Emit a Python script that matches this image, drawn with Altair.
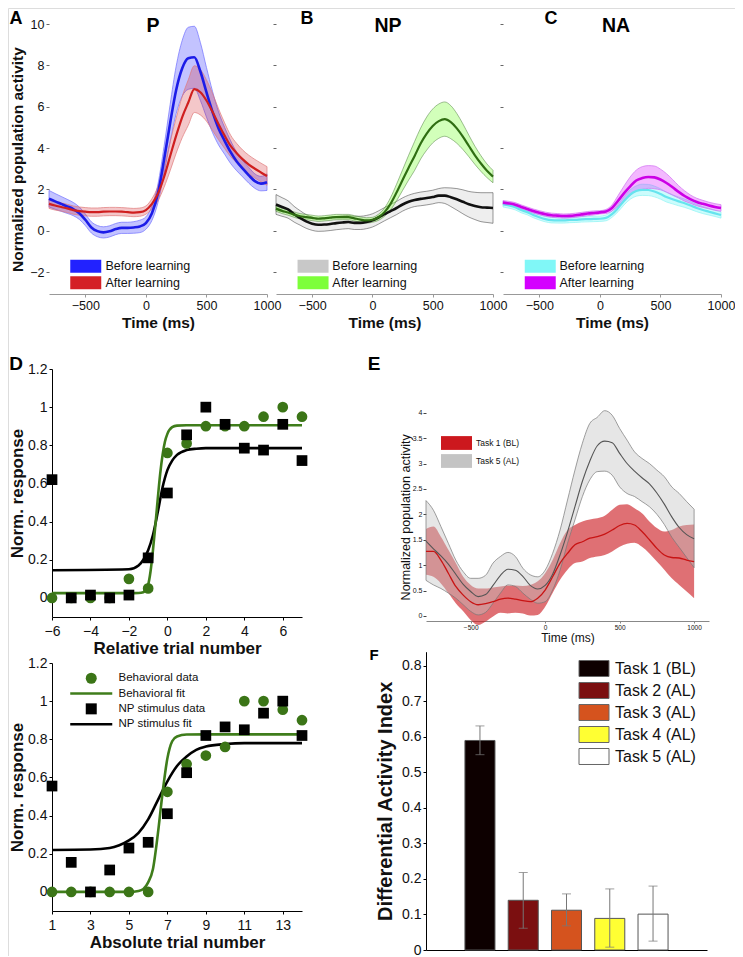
import altair as alt
import pandas as pd

W, H = 727, 948
FONT = "Liberation Sans"

# ------------------------------------------------------------------ data
T = [-800, -750, -700, -650, -600, -550, -500, -450, -400, -350, -300, -250, -200, -150, -100, -50,
     0, 50, 100, 150, 200, 250, 300, 350, 400, 450, 500, 550, 600, 650, 700, 750, 800, 850, 900, 950, 1000]

LEARN = ["Before learning", "After learning"]

# Panel A (P)
P_before_mean = [1.55, 1.42, 1.3, 1.18, 1.05, 0.85, 0.53, 0.16, -0.02, -0.08, -0.03, 0.08, 0.14, 0.14, 0.16, 0.21,
                 0.37, 0.85, 1.82, 3.43, 5.2, 6.81, 7.86, 8.34, 8.39, 7.7, 6.7, 5.75, 4.95, 4.35, 3.8, 3.35, 3.0, 2.68, 2.4, 2.28, 2.35]
P_before_sem = [0.4, 0.38, 0.36, 0.34, 0.32, 0.3, 0.28, 0.27, 0.27, 0.27, 0.27, 0.27, 0.27, 0.27, 0.28, 0.3,
                0.3, 0.35, 0.45, 0.65, 0.9, 1.15, 1.35, 1.5, 1.5, 1.4, 1.2, 1.0, 0.8, 0.65, 0.55, 0.45, 0.4, 0.38, 0.35, 0.35, 0.4]
P_after_mean = [1.3, 1.22, 1.15, 1.08, 1.0, 0.95, 0.92, 0.9, 0.9, 0.92, 0.93, 0.93, 0.92, 0.9, 0.88, 0.9,
                1.0, 1.3, 1.8, 2.6, 3.6, 4.6, 5.5, 6.2, 6.85, 6.7, 6.3, 5.75, 5.15, 4.6, 4.1, 3.75, 3.45, 3.2, 3.0, 2.82, 2.65]
P_after_sem = [0.22, 0.22, 0.2, 0.2, 0.2, 0.2, 0.2, 0.2, 0.2, 0.2, 0.2, 0.2, 0.2, 0.2, 0.2, 0.2,
               0.2, 0.25, 0.35, 0.5, 0.7, 0.85, 1.0, 1.1, 1.13, 1.1, 1.0, 0.9, 0.75, 0.62, 0.52, 0.47, 0.45, 0.45, 0.45, 0.45, 0.45]

# Panel B (NP)
NP_before_mean = [1.27, 1.15, 1.03, 0.8, 0.62, 0.45, 0.34, 0.29, 0.3, 0.33, 0.37, 0.4, 0.42, 0.38, 0.38, 0.42,
                  0.5, 0.64, 0.8, 0.95, 1.1, 1.27, 1.4, 1.49, 1.54, 1.58, 1.63, 1.7, 1.7, 1.62, 1.52, 1.4, 1.28, 1.2, 1.14, 1.12, 1.1]
NP_before_sem = [0.48, 0.45, 0.42, 0.38, 0.35, 0.33, 0.32, 0.32, 0.32, 0.32, 0.32, 0.32, 0.32, 0.32, 0.32, 0.32,
                 0.32, 0.32, 0.32, 0.32, 0.32, 0.32, 0.32, 0.32, 0.33, 0.33, 0.33, 0.34, 0.38, 0.45, 0.52, 0.58, 0.62, 0.66, 0.7, 0.72, 0.74]
NP_after_mean = [1.07, 0.96, 0.88, 0.78, 0.7, 0.66, 0.62, 0.58, 0.6, 0.63, 0.66, 0.66, 0.66, 0.6, 0.54, 0.5,
                 0.53, 0.65, 0.9, 1.3, 1.85, 2.45, 3.05, 3.62, 4.22, 4.7, 5.07, 5.3, 5.4, 5.25, 4.95, 4.55, 4.1, 3.65, 3.25, 2.9, 2.62]
NP_after_sem = [0.13, 0.13, 0.13, 0.13, 0.13, 0.13, 0.13, 0.13, 0.13, 0.13, 0.13, 0.13, 0.13, 0.13, 0.13, 0.13,
                0.12, 0.15, 0.2, 0.3, 0.4, 0.5, 0.6, 0.7, 0.75, 0.8, 0.82, 0.83, 0.83, 0.8, 0.72, 0.62, 0.52, 0.44, 0.38, 0.33, 0.3]

# Panel C (NA)
NA_before_mean = [1.28, 1.22, 1.14, 1.0, 0.9, 0.76, 0.65, 0.56, 0.51, 0.5, 0.5, 0.52, 0.53, 0.55, 0.56, 0.57,
                  0.58, 0.62, 0.8, 1.1, 1.45, 1.75, 1.92, 1.98, 1.97, 1.9, 1.78, 1.63, 1.52, 1.42, 1.33, 1.22, 1.1, 1.0, 0.92, 0.84, 0.76]
NA_before_sem = [0.13, 0.13, 0.13, 0.13, 0.13, 0.13, 0.13, 0.13, 0.13, 0.13, 0.13, 0.13, 0.13, 0.13, 0.13, 0.13,
                 0.13, 0.14, 0.15, 0.18, 0.2, 0.23, 0.25, 0.27, 0.27, 0.26, 0.25, 0.24, 0.22, 0.21, 0.2, 0.19, 0.18, 0.17, 0.16, 0.15, 0.15]
NA_after_mean = [1.36, 1.32, 1.26, 1.15, 1.05, 0.95, 0.87, 0.8, 0.75, 0.73, 0.71, 0.72, 0.75, 0.79, 0.83, 0.86,
                 0.89, 0.93, 1.1, 1.45, 1.82, 2.15, 2.43, 2.55, 2.6, 2.58, 2.48, 2.31, 2.1, 1.88, 1.68, 1.52, 1.39, 1.3, 1.22, 1.15, 1.1]
NA_after_sem = [0.1, 0.1, 0.1, 0.1, 0.1, 0.1, 0.1, 0.1, 0.1, 0.1, 0.1, 0.1, 0.1, 0.1, 0.1, 0.1,
                0.08, 0.1, 0.15, 0.25, 0.35, 0.45, 0.5, 0.55, 0.55, 0.55, 0.5, 0.45, 0.38, 0.3, 0.25, 0.2, 0.18, 0.17, 0.16, 0.16, 0.16]

# Panel D
REL_X = [-6, -5, -4, -3, -2, -1, 0, 1, 2, 3, 4, 5, 6, 7]
REL_BEH = [0, 0, 0, 0, 0.1, 0.05, 0.76, 0.81, 0.9, 0.9, 0.9, 0.95, 1.0, 0.95]
REL_NP = [0.62, 0, 0.015, 0.0, 0.015, 0.21, 0.55, 0.855, 1.0, 0.91, 0.785, 0.775, 0.91, 0.72]
REL_BEH_FIT_X = [-6, -2, -1.5, -1.25, -1, -0.875, -0.75, -0.625, -0.5, -0.375, -0.25, -0.125, 0, 0.25, 0.5, 1, 7]
REL_BEH_FIT = [0.025, 0.025, 0.026, 0.03, 0.07, 0.14, 0.25, 0.38, 0.52, 0.65, 0.75, 0.82, 0.86, 0.895, 0.903, 0.905, 0.905]
REL_NP_FIT_X = [-6, -2, -1.5, -1.25, -1, -0.75, -0.5, -0.25, 0, 0.25, 0.5, 1, 1.5, 2, 7]
REL_NP_FIT = [0.145, 0.15, 0.17, 0.2, 0.25, 0.33, 0.45, 0.58, 0.67, 0.72, 0.75, 0.775, 0.782, 0.785, 0.785]

ABS_X = [1, 2, 3, 4, 5, 6, 7, 8, 9, 10, 11, 12, 13, 14]
ABS_BEH = [0, 0, 0, 0, 0, 0, 0.525, 0.67, 0.715, 0.76, 1.0, 1.0, 0.955, 0.9]
ABS_NP = [0.555, 0.155, 0.0, 0.115, 0.23, 0.26, 0.41, 0.625, 0.82, 0.865, 0.85, 0.937, 1.0, 0.82]
ABS_BEH_FIT_X = [1, 5, 5.5, 5.75, 6, 6.25, 6.5, 6.75, 7, 7.25, 7.5, 8, 9, 14]
ABS_BEH_FIT = [0, 0, 0.005, 0.015, 0.05, 0.12, 0.3, 0.52, 0.7, 0.79, 0.815, 0.825, 0.826, 0.826]
ABS_NP_FIT_X = [1, 3, 4, 4.5, 5, 5.5, 6, 6.5, 7, 7.5, 8, 8.5, 9, 10, 11, 14]
ABS_NP_FIT = [0.22, 0.222, 0.23, 0.245, 0.27, 0.31, 0.38, 0.48, 0.58, 0.66, 0.71, 0.745, 0.762, 0.775, 0.78, 0.78]
D_SERIES = ["Behavioral data", "Behavioral fit", "NP stimulus data", "NP stimulus fit"]

# Panel E
E_NAMES = ["Task 1 (BL)", "Task 5 (AL)"]
E_red_mean = [1.27, 1.27, 1.1, 0.84, 0.58, 0.41, 0.28, 0.22, 0.24, 0.28, 0.33, 0.35, 0.33, 0.3, 0.28, 0.35,
              0.51, 0.77, 1.04, 1.23, 1.4, 1.46, 1.53, 1.56, 1.61, 1.69, 1.78, 1.82, 1.79, 1.66, 1.5, 1.33, 1.2, 1.15, 1.14, 1.1, 1.07]
E_red_hi = [1.71, 1.76, 1.56, 1.3, 1.04, 0.77, 0.61, 0.54, 0.54, 0.56, 0.58, 0.6, 0.6, 0.59, 0.61, 0.68,
            0.84, 1.1, 1.43, 1.69, 1.79, 1.86, 1.9, 1.92, 1.97, 2.09, 2.19, 2.2, 2.12, 2.02, 1.86, 1.73, 1.66, 1.69, 1.76, 1.79, 1.8]
E_red_lo = [0.81, 0.77, 0.64, 0.45, 0.25, 0.09, -0.08, -0.18, -0.11, -0.01, 0.06, 0.05, 0.06, 0.05, 0.01, 0.02,
            0.18, 0.45, 0.71, 0.91, 1.04, 1.07, 1.14, 1.17, 1.2, 1.27, 1.36, 1.42, 1.44, 1.36, 1.23, 1.07, 0.91, 0.74, 0.61, 0.48, 0.35]
E_gray_mean = [1.47, 1.32, 1.18, 1.02, 0.82, 0.62, 0.48, 0.38, 0.42, 0.6, 0.8, 0.92, 0.9, 0.78, 0.6, 0.53,
               0.6, 0.82, 1.2, 1.65, 2.15, 2.65, 3.05, 3.35, 3.44, 3.41, 3.2, 3.0, 2.85, 2.72, 2.6, 2.42, 2.2, 1.95, 1.74, 1.6, 1.52]
E_gray_hi = [2.27, 2.08, 1.76, 1.43, 1.1, 0.87, 0.74, 0.74, 0.8, 1.04, 1.17, 1.25, 1.17, 0.94, 0.81, 0.77,
             0.9, 1.23, 1.69, 2.28, 2.87, 3.4, 3.79, 3.91, 4.04, 3.95, 3.69, 3.46, 3.23, 3.1, 3.0, 2.87, 2.74, 2.54, 2.41, 2.25, 2.1]
E_gray_lo = [0.7, 0.61, 0.54, 0.45, 0.35, 0.22, 0.09, 0.02, 0.07, 0.25, 0.45, 0.61, 0.58, 0.45, 0.33, 0.25,
             0.28, 0.51, 0.9, 1.43, 1.89, 2.35, 2.68, 2.84, 2.85, 2.77, 2.54, 2.41, 2.35, 2.25, 2.15, 2.0, 1.8, 1.55, 1.35, 1.15, 0.95]

# Panel F
TASKS = ["Task 1 (BL)", "Task 2 (AL)", "Task 3 (AL)", "Task 4 (AL)", "Task 5 (AL)"]
DAI = [0.59, 0.14, 0.112, 0.089, 0.101]
DAI_LO = [0.55, 0.061, 0.068, 0.008, 0.025]
DAI_HI = [0.631, 0.218, 0.158, 0.172, 0.18]
TASK_COLORS = ["#0d0000", "#7b0f10", "#d5531e", "#ffff33", "#ffffff"]


# ------------------------------------------------------------------ helpers
def band_df(mean, lo, hi, name):
    return pd.DataFrame({"t": T, "mean": mean, "lo": lo, "hi": hi, "series": name})


def sem_df(mean, sem, name):
    return band_df(mean, [m - s for m, s in zip(mean, sem)], [m + s for m, s in zip(mean, sem)], name)


def rect_path(hw, hh):
    return f"M{-hw},{-hh}H{hw}V{hh}H{-hw}Z"


def left_axis(x, values, title=None, labels=True, fmt=None, **kw):
    a = dict(orient="left", offset=-x, labels=labels, grid=False,
             labelFont=FONT, titleFont=FONT, labelColor="#111", titleColor="#111")
    if values is not None:
        a["values"] = values
    a["title"] = title
    if fmt:
        a["format"] = fmt
    a.update(kw)
    return alt.Axis(**a)


def bottom_axis(y, values, title=None, labels=True, **kw):
    a = dict(orient="bottom", offset=y - H, labels=labels, grid=False, labelFlush=False,
             labelFont=FONT, titleFont=FONT, labelColor="#111", titleColor="#111")
    if values is not None:
        a["values"] = values
    a["title"] = title
    a.update(kw)
    return alt.Axis(**a)


def time_panel(d1, d2, names, swatch, fop, edge, edge_w, lcol, lw, xr, yr, ydom, xaxis, yaxis, legend,
               xdom=(-800, 1000)):
    xs = alt.Scale(domain=list(xdom), range=list(xr), nice=False, zero=False)
    ys = alt.Scale(domain=list(ydom), range=list(yr), nice=False, zero=False)
    k1 = dict(interpolate="monotone", fillOpacity=fop[0])
    if edge[0]:
        k1.update(stroke=edge[0], strokeWidth=edge_w)
    k2 = dict(interpolate="monotone", fill=swatch[1], fillOpacity=fop[1])
    if edge[1]:
        k2.update(stroke=edge[1], strokeWidth=edge_w)
    X = alt.X("t:Q", scale=xs, axis=xaxis)
    b1 = alt.Chart(d1).mark_area(**k1).encode(
        x=X, y=alt.Y("lo:Q", scale=ys, axis=yaxis), y2="hi:Q",
        color=alt.Color("series:N", scale=alt.Scale(domain=names, range=swatch), legend=legend),
    )
    b2 = alt.Chart(d2).mark_area(**k2).encode(x=X, y=alt.Y("lo:Q", scale=ys, axis=yaxis), y2="hi:Q")
    l1 = alt.Chart(d1).mark_line(interpolate="monotone", color=lcol[0], strokeWidth=lw[0]).encode(
        x=X, y=alt.Y("mean:Q", scale=ys, axis=yaxis))
    l2 = alt.Chart(d2).mark_line(interpolate="monotone", color=lcol[1], strokeWidth=lw[1]).encode(
        x=X, y=alt.Y("mean:Q", scale=ys, axis=yaxis))
    return alt.layer(b1, b2, l1, l2)


def swatch_legend(lx, ly, fs, path, row_pad, lab_off, size=144, stroke_w=0, stroke_c="#666"):
    return alt.Legend(orient="none", legendX=lx, legendY=ly, title=None, symbolType=path, symbolSize=size,
                      labelFont=FONT, labelFontSize=fs, labelColor="#111", rowPadding=row_pad,
                      labelOffset=lab_off, padding=0, symbolStrokeWidth=stroke_w, symbolStrokeColor=stroke_c,
                      symbolOpacity=1)


def text_label(txt, x, y, size, weight="bold"):
    return alt.Chart(pd.DataFrame({"s": [txt]})).mark_text(
        font=FONT, fontSize=size, fontWeight=weight, align="center", baseline="middle", color="#000"
    ).encode(text="s:N", x=alt.value(x), y=alt.value(y))


SW_PATH = rect_path(2.583, 1.083)
Y_TOP = [-2, 0, 2, 4, 6, 8, 10]
X_TIME = [-500, 0, 500, 1000]
YDOM_TOP = (-3.06, 10.0)
YR_TOP = (286, 16)


def xa_top():
    return dict(domainColor="#999", tickColor="#999", tickSize=3, labelFontSize=12.5, labelPadding=2,
                titleFontSize=15.5, titleFontWeight="bold", titlePadding=4, format="d")


# ------------------------------------------------------------------ panel A-C
panelA = time_panel(
    sem_df(P_before_mean, P_before_sem, LEARN[0]), sem_df(P_after_mean, P_after_sem, LEARN[1]), LEARN,
    ["#2222ff", "#d42026"], (0.27, 0.25), ("#7070ff", "#e07a7a"), 0.7, ("#1c1ce8", "#cf1f1f"), (2.6, 2.2),
    (41, 259), YR_TOP, YDOM_TOP,
    bottom_axis(286, X_TIME, "Time (ms)", **xa_top()),
    left_axis(41, Y_TOP, "Normalized population activity", domain=False, tickSize=3, tickColor="#666",
              labelFontSize=12.5, labelPadding=2, titleFontSize=15.5, titleFontWeight="bold", titlePadding=4),
    swatch_legend(71.5, 252, 12.5, SW_PATH, 2.5, 13.5),
)
panelB = time_panel(
    sem_df(NP_before_mean, NP_before_sem, LEARN[0]), sem_df(NP_after_mean, NP_after_sem, LEARN[1]), LEARN,
    ["#c8c8c8", "#7dff3a"], (0.3, 0.35), ("#333333", "#4a7a3a"), 0.5, ("#111111", "#2f6e12"), (2.6, 2.2),
    (268, 485), YR_TOP, YDOM_TOP,
    bottom_axis(286, X_TIME, "Time (ms)", **xa_top()),
    left_axis(268, Y_TOP, None, labels=False, domain=False, tickSize=3, tickColor="#666"),
    swatch_legend(298.8, 252, 12.5, SW_PATH, 2.5, 13),
)
panelC = time_panel(
    sem_df(NA_before_mean, NA_before_sem, LEARN[0]), sem_df(NA_after_mean, NA_after_sem, LEARN[1]), LEARN,
    ["#80f7f7", "#d400ff"], (0.4, 0.28), ("#8ff4f4", "#d070f0"), 0.7, ("#66e4ee", "#cc00e6"), (2.2, 2.6),
    (495, 713), YR_TOP, YDOM_TOP,
    bottom_axis(286, X_TIME, "Time (ms)", **xa_top()),
    left_axis(495, Y_TOP, None, labels=False, domain=False, tickSize=3, tickColor="#666"),
    swatch_legend(526, 252, 12.5, SW_PATH, 2.5, 13),
)

# ------------------------------------------------------------------ panel D
GREEN = "#3b7517"
D_COLORS = [GREEN, "#3f7d1b", "#000000", "#000000"]
LINE_PATH = rect_path(3.82, 0.23)
D_SHAPES = ["circle", LINE_PATH, "square", LINE_PATH]
Y_D = [0, 0.2, 0.4, 0.6, 0.8, 1, 1.2]


def d_panel(xs_vals, beh, np_, bfx, bf, nfx, nf, xdom, yr, xvals, xtitle, legend):
    xs = alt.Scale(domain=list(xdom), range=[44, 294], nice=False, zero=False)
    ys = alt.Scale(domain=[-0.1, 1.2], range=list(yr), nice=False, zero=False)
    pts = pd.DataFrame({"x": xs_vals + xs_vals, "y": beh + np_,
                        "series": [D_SERIES[0]] * len(xs_vals) + [D_SERIES[2]] * len(xs_vals)})
    fb = pd.DataFrame({"x": bfx, "y": bf})
    fn = pd.DataFrame({"x": nfx, "y": nf})
    axis_common = dict(domainColor="#000", tickColor="#000", tickSize=3, labelFontSize=14,
                       titleFontSize=17, titleFontWeight="bold")
    X = alt.X("x:Q", scale=xs, axis=bottom_axis(yr[0], xvals, xtitle, labelPadding=4, titlePadding=2,
                                                **axis_common))
    Y = alt.Y("y:Q", scale=ys, axis=left_axis(44, Y_D, "Norm. response", fmt="~g", labelPadding=2,
                                              titlePadding=1, **axis_common))
    l_np = alt.Chart(fn).mark_line(interpolate="monotone", color="#000", strokeWidth=2.6).encode(x=X, y=Y)
    l_b = alt.Chart(fb).mark_line(interpolate="monotone", color=D_COLORS[1], strokeWidth=2.6).encode(x=X, y=Y)
    p = alt.Chart(pts).mark_point(filled=True, opacity=1, size=115).encode(
        x=X, y=Y,
        color=alt.Color("series:N", scale=alt.Scale(domain=D_SERIES, range=D_COLORS), legend=legend),
        shape=alt.Shape("series:N", scale=alt.Scale(domain=D_SERIES, range=D_SHAPES), legend=legend),
    )
    return alt.layer(l_np, l_b, p)


d_leg = alt.Legend(orient="none", legendX=77.5, legendY=664.5, title=None, symbolSize=121,
                   labelFont=FONT, labelFontSize=11.5, labelColor="#111", rowPadding=2.3, labelOffset=21.5,
                   padding=0, symbolStrokeWidth=0, symbolOpacity=1)

panelD1 = d_panel(REL_X, REL_BEH, REL_NP, REL_BEH_FIT_X, REL_BEH_FIT, REL_NP_FIT_X, REL_NP_FIT,
                  (-6, 7), (609, 361), [-6, -4, -2, 0, 2, 4, 6], "Relative trial number", None)
panelD2 = d_panel(ABS_X, ABS_BEH, ABS_NP, ABS_BEH_FIT_X, ABS_BEH_FIT, ABS_NP_FIT_X, ABS_NP_FIT,
                  (1, 14), (903, 655), [1, 3, 5, 7, 9, 11, 13], "Absolute trial number", d_leg)

# ------------------------------------------------------------------ panel E
panelE = time_panel(
    band_df(E_red_mean, E_red_lo, E_red_hi, E_NAMES[0]), band_df(E_gray_mean, E_gray_lo, E_gray_hi, E_NAMES[1]),
    E_NAMES, ["#cc181e", "#c4c4c4"], (0.62, 0.42), (None, "#777777"), 0.7, ("#c81414", "#555555"), (1.3, 1.1),
    (418, 701), (613, 404.7), (-0.1, 4.0),
    bottom_axis(613, X_TIME, "Time (ms)", domainColor="#888", tickColor="#888", tickSize=2, labelFontSize=6.5,
                labelPadding=1, titleFontSize=12, titleFontWeight="normal", titlePadding=2, format="d"),
    left_axis(418, [0, 0.5, 1, 1.5, 2, 2.5, 3, 3.5, 4], "Normalized population activity", fmt="~g",
              domain=False, tickSize=3, tickColor="#444", labelFontSize=7, labelPadding=1,
              titleFontSize=12.5, titleFontWeight="normal", titlePadding=0),
    swatch_legend(442.5, 429, 8.5, rect_path(2.583, 1.15), 4, 13.5),
    xdom=(-800, 1100),
)

# ------------------------------------------------------------------ panel F
dfF = pd.DataFrame({"task": TASKS, "dai": DAI, "lo": DAI_LO, "hi": DAI_HI})
xsF = alt.Scale(domain=TASKS, range=[418, 699], paddingInner=0.306, paddingOuter=0.9)
ysF = alt.Scale(domain=[0, 0.84], range=[942, 643.7], nice=False, zero=False)
XF = alt.X("task:N", scale=xsF, sort=TASKS,
           axis=bottom_axis(942, None, None, labels=False, ticks=False, domainColor="#000"))
YF_axis = left_axis(418, [0, 0.1, 0.2, 0.3, 0.4, 0.5, 0.6, 0.7, 0.8], "Differential Activity Index",
                    fmt="~g", domainColor="#000", tickColor="#000", tickSize=3, labelFontSize=14,
                    labelPadding=2, titleFontSize=20, titleFontWeight="bold", titlePadding=6)
barsF = alt.Chart(dfF).mark_bar(stroke="#555555", strokeWidth=1).encode(
    x=XF, y=alt.Y("dai:Q", scale=ysF, axis=YF_axis),
    color=alt.Color("task:N", scale=alt.Scale(domain=TASKS, range=TASK_COLORS),
                    legend=swatch_legend(578, 652.5, 16, rect_path(2.5, 1.333), 2, 13, stroke_w=1,
                                         stroke_c="#666")),
)
errF = alt.Chart(dfF).mark_rule(color="#777777", strokeWidth=1).encode(
    x=XF, y=alt.Y("lo:Q", scale=ysF, axis=YF_axis), y2="hi:Q")
capLo = alt.Chart(dfF).mark_tick(color="#777777", thickness=1, size=9).encode(
    x=XF, y=alt.Y("lo:Q", scale=ysF, axis=YF_axis))
capHi = alt.Chart(dfF).mark_tick(color="#777777", thickness=1, size=9).encode(
    x=XF, y=alt.Y("hi:Q", scale=ysF, axis=YF_axis))
panelF = alt.layer(barsF, errF, capLo, capHi)

# ------------------------------------------------------------------ annotations
labels = [
    text_label("A", 8, 11, 18), text_label("B", 299, 11, 18), text_label("C", 543, 11, 18),
    text_label("P", 145, 18, 19.5), text_label("NP", 380, 18, 19.5), text_label("NA", 608, 18, 19.5),
    text_label("D", 8, 356, 19), text_label("E", 366, 356, 19), text_label("F", 366, 647, 15),
]

chart = alt.layer(panelA, panelB, panelC, panelD1, panelD2, panelE, panelF, *labels).resolve_scale(
    x="independent", y="independent", color="independent", shape="independent"
).properties(
    width=W, height=H, autosize=alt.AutoSizeParams(type="none"), padding=0
).configure_view(stroke=None).configure(font=FONT)

chart.save("out.html", embed_options={"renderer": "svg", "actions": False})
